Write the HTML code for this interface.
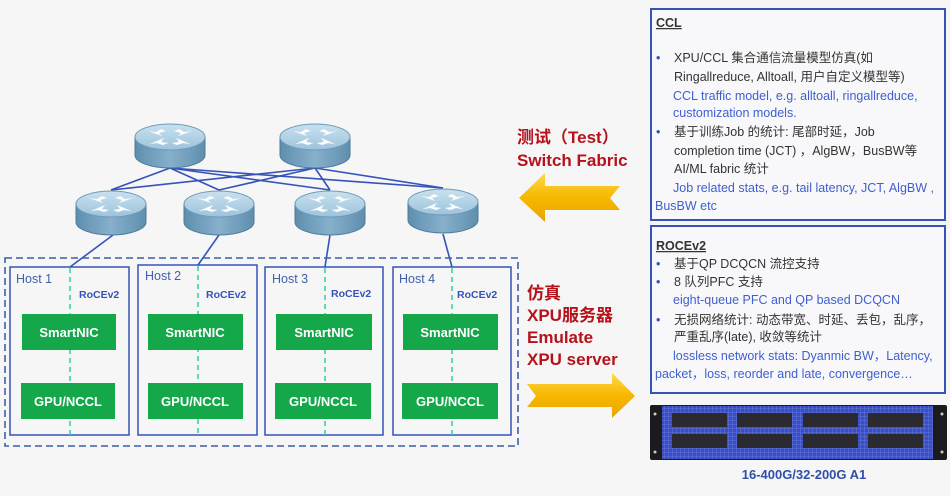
<!DOCTYPE html>
<html><head><meta charset="utf-8"><style>
html,body{margin:0;padding:0;background:#f6f6f6;}
body{width:950px;height:491px;overflow:hidden;font-family:"Liberation Sans","Noto Sans CJK SC",sans-serif;}
</style></head><body>
<svg width="950" height="491" viewBox="0 0 950 491" xmlns="http://www.w3.org/2000/svg" font-family="Liberation Sans, Noto Sans CJK SC, sans-serif">
<defs>
<linearGradient id="body" x1="0" x2="1"><stop offset="0" stop-color="#5f8fae"/><stop offset="0.5" stop-color="#86b0cc"/><stop offset="1" stop-color="#5f8fae"/></linearGradient>
<linearGradient id="top" x1="0" y1="0" x2="0" y2="1"><stop offset="0" stop-color="#c9e1ef"/><stop offset="1" stop-color="#9cc3dc"/></linearGradient>
<g id="r">
<path d="M-35 0 V18 A35 13 0 0 0 35 18 V0 Z" fill="url(#body)" stroke="#4d7a99" stroke-width="1"/>
<ellipse cx="0" cy="0" rx="35" ry="13" fill="url(#top)" stroke="#6f9ab5" stroke-width="1"/>
<g fill="#fff" stroke="#d8e8f2" stroke-width="0.5">
<path d="M-22 -6 L-8 -1 L-11 -4 L-4 -6 L-9 -8 L-14 -5 Z"/>
<path d="M22 -6 L8 -1 L11 -4 L4 -6 L9 -8 L14 -5 Z"/>
<path d="M-20 7 L-6 1 L-9 5 L-2 6 L-7 8 L-13 6 Z"/>
<path d="M20 7 L6 1 L9 5 L2 6 L7 8 L13 6 Z"/>
</g>
</g>
<linearGradient id="arr" x1="0" y1="0" x2="0" y2="1"><stop offset="0" stop-color="#ffd84a"/><stop offset="0.5" stop-color="#f7b800"/><stop offset="1" stop-color="#e9a400"/></linearGradient>
<pattern id="grid" width="4" height="4" patternUnits="userSpaceOnUse"><rect width="4" height="4" fill="#3a4ec2"/><path d="M0 0H4M0 0V4" stroke="#6b7de0" stroke-width="0.8"/></pattern>
</defs>

<!-- connections -->
<g stroke="#3553b8" stroke-width="1.6" fill="none">
<line x1="170" y1="168" x2="111" y2="190"/><line x1="170" y1="168" x2="219" y2="190"/><line x1="170" y1="168" x2="330" y2="190"/><line x1="170" y1="168" x2="443" y2="188"/>
<line x1="315" y1="168" x2="111" y2="190"/><line x1="315" y1="168" x2="219" y2="190"/><line x1="315" y1="168" x2="330" y2="190"/><line x1="315" y1="168" x2="443" y2="188"/>
<line x1="113" y1="235" x2="70" y2="267"/><line x1="219" y1="235" x2="198" y2="265"/><line x1="330" y1="235" x2="325" y2="267"/><line x1="443" y1="234" x2="452" y2="267"/>
</g>
<use href="#r" x="170" y="137"/><use href="#r" x="315" y="137"/>
<use href="#r" x="111" y="204"/><use href="#r" x="219" y="204"/><use href="#r" x="330" y="204"/><use href="#r" x="443" y="202"/>

<!-- dashed outer -->
<rect x="5" y="258" width="513" height="188" fill="none" stroke="#3f5fa8" stroke-width="1.6" stroke-dasharray="7,4"/>

<g font-size="12.5" fill="#3f5fa8">
<rect x="10" y="267" width="119" height="168" fill="none" stroke="#3553b8" stroke-width="1.5"/>
<rect x="138" y="265" width="119" height="170" fill="none" stroke="#3553b8" stroke-width="1.5"/>
<rect x="265" y="267" width="118" height="168" fill="none" stroke="#3553b8" stroke-width="1.5"/>
<rect x="393" y="267" width="118" height="168" fill="none" stroke="#3553b8" stroke-width="1.5"/>
<text x="16" y="283">Host 1</text><text x="145" y="280">Host 2</text><text x="272" y="283">Host 3</text><text x="399" y="283">Host 4</text>
</g>
<g stroke="#3ad1b0" stroke-width="1.6" stroke-dasharray="5,4">
<line x1="70" y1="268" x2="70" y2="435"/><line x1="198" y1="266" x2="198" y2="435"/><line x1="325" y1="268" x2="325" y2="435"/><line x1="452" y1="268" x2="452" y2="435"/>
</g>
<g font-size="10.5" font-weight="bold" fill="#3553b8">
<text x="79" y="298">RoCEv2</text><text x="206" y="298">RoCEv2</text><text x="331" y="297">RoCEv2</text><text x="457" y="298">RoCEv2</text>
</g>
<g fill="#15a84a">
<rect x="22" y="314" width="94" height="36"/><rect x="148" y="314" width="95" height="36"/><rect x="276" y="314" width="96" height="36"/><rect x="403" y="314" width="95" height="36"/>
<rect x="21" y="383" width="94" height="36"/><rect x="148" y="383" width="95" height="36"/><rect x="275" y="383" width="96" height="36"/><rect x="402" y="383" width="96" height="36"/>
</g>
<g fill="#fff" font-size="13" font-weight="bold" text-anchor="middle">
<text x="69" y="337">SmartNIC</text><text x="195" y="337">SmartNIC</text><text x="324" y="337">SmartNIC</text><text x="450" y="337">SmartNIC</text>
<text x="68" y="406">GPU/NCCL</text><text x="195" y="406">GPU/NCCL</text><text x="323" y="406">GPU/NCCL</text><text x="450" y="406">GPU/NCCL</text>
</g>

<!-- red text -->
<g fill="#b5121b" font-size="17" font-weight="bold">
<text x="517" y="143">测试（Test）</text>
<text x="517" y="166">Switch Fabric</text>
<text x="527" y="299">仿真</text>
<text x="527" y="321">XPU服务器</text>
<text x="527" y="343">Emulate</text>
<text x="527" y="365">XPU server</text>
</g>
<!-- arrows -->
<path d="M519 198 L545 173 L545 186 L620 186 L610 198 L620 210 L545 210 L545 222 Z" fill="url(#arr)"/>
<path d="M527 384 L612 384 L612 373 L635 396 L612 418 L612 407 L527 407 L536 396 Z" fill="url(#arr)"/>

<!-- CCL box -->
<rect x="651" y="9" width="294" height="211" fill="#f8f8fa" stroke="#3553b8" stroke-width="2"/>
<g font-size="12.5" fill="#333">
<text x="656" y="27" font-weight="bold" text-decoration="underline">CCL</text>
<text x="656" y="62" fill="#3553b8">•</text><text x="674" y="62">XPU/CCL 集合通信流量模型仿真(如</text>
<text x="674" y="81">Ringallreduce, Alltoall, 用户自定义模型等)</text>
<text x="673" y="100" fill="#3f5fd0">CCL traffic model, e.g. alltoall, ringallreduce,</text>
<text x="673" y="117" fill="#3f5fd0">customization models.</text>
<text x="656" y="136" fill="#3553b8">•</text><text x="674" y="136">基于训练Job 的统计: 尾部时延，Job</text>
<text x="674" y="155">completion time (JCT) ，AlgBW，BusBW等</text>
<text x="674" y="173">AI/ML fabric 统计</text>
<text x="673" y="192" fill="#3f5fd0">Job related stats, e.g. tail latency, JCT, AlgBW ,</text>
<text x="655" y="210" fill="#3f5fd0">BusBW etc</text>
</g>
<rect x="651" y="226" width="294" height="167" fill="#f8f8fa" stroke="#3553b8" stroke-width="2"/>
<g font-size="12.5" fill="#333">
<text x="656" y="250" font-weight="bold" text-decoration="underline">ROCEv2</text>
<text x="656" y="268" fill="#3553b8">•</text><text x="674" y="268">基于QP DCQCN 流控支持</text>
<text x="656" y="286" fill="#3553b8">•</text><text x="674" y="286">8 队列PFC 支持</text>
<text x="673" y="304" fill="#3f5fd0">eight-queue PFC and QP based DCQCN</text>
<text x="656" y="324" fill="#3553b8">•</text><text x="674" y="324">无损网络统计: 动态带宽、时延、丢包，乱序，</text>
<text x="674" y="341">严重乱序(late), 收敛等统计</text>
<text x="673" y="360" fill="#3f5fd0">lossless network stats: Dyanmic BW，Latency,</text>
<text x="655" y="378" fill="#3f5fd0">packet，loss, reorder and late, convergence…</text>
</g>

<!-- server -->
<rect x="650" y="405" width="297" height="55" rx="2" fill="#1a1a1f"/>
<rect x="662" y="406" width="271" height="53" fill="url(#grid)"/>
<g fill="#2a2a30">
<rect x="672" y="413" width="55" height="14"/><rect x="737" y="413" width="55" height="14"/><rect x="803" y="413" width="55" height="14"/><rect x="868" y="413" width="55" height="14"/>
<rect x="672" y="434" width="55" height="14"/><rect x="737" y="434" width="55" height="14"/><rect x="803" y="434" width="55" height="14"/><rect x="868" y="434" width="55" height="14"/>
</g>
<g fill="#ccc"><circle cx="655" cy="414" r="1.5"/><circle cx="655" cy="452" r="1.5"/><circle cx="942" cy="414" r="1.5"/><circle cx="942" cy="452" r="1.5"/></g>
<text x="804" y="479" font-size="13" font-weight="bold" fill="#2f4fa8" text-anchor="middle">16-400G/32-200G A1</text>
</svg>
</body></html>
